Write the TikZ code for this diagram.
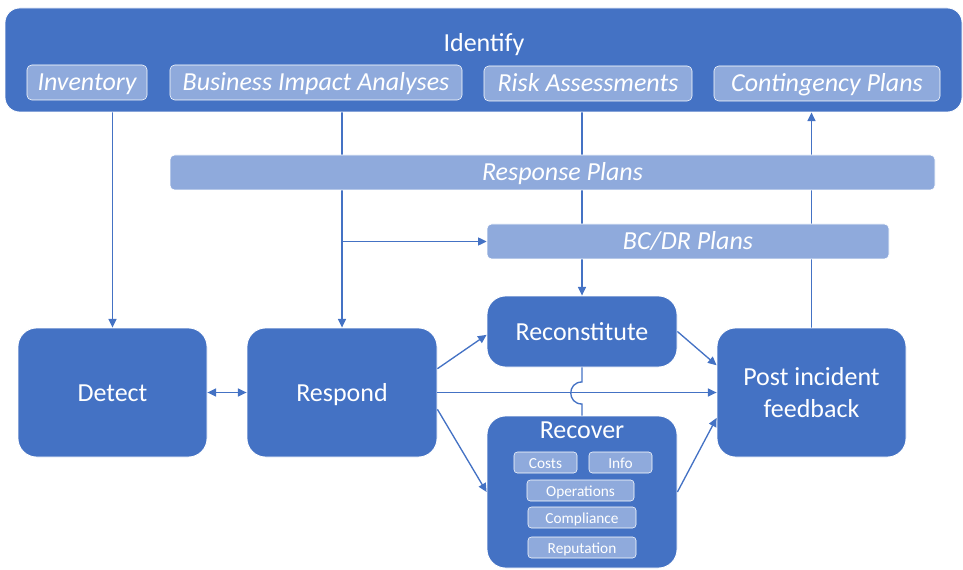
\documentclass[tikz,border=0pt]{standalone}
\usepackage{fontspec}
\setmainfont{Carlito}
\usetikzlibrary{arrows.meta,backgrounds}
\definecolor{blockblue}{HTML}{4472C4}
\definecolor{paleblue}{HTML}{8FAADC}
\begin{document}
\begin{tikzpicture}[x=0.75pt,y=-0.75pt,
        boxsize/.style 2 args={minimum width=#1*0.75pt,minimum height=#2*0.75pt},
        mainbox/.style={draw=white,line width=0.6pt,fill=blockblue,rounded corners=14pt,inner sep=0pt,text=white,align=center,font=\fontsize{19.5}{24.5}\selectfont},
        oneline/.style={mainbox,text height=15pt,text depth=1pt},
        planbar/.style={draw=white,line width=0.4pt,fill=paleblue,rounded corners=3.5pt,inner sep=0pt,text=white,text height=15.6pt,text depth=2.9pt,font=\fontsize{19.5}{24}\selectfont\itshape},
        itembox/.style={planbar,rounded corners=2.5pt,text height=9.8pt,text depth=1.2pt,font=\fontsize{11.5}{14}\selectfont},
        boxtitle/.style={inner sep=0pt,text=white,font=\fontsize{19.5}{24}\selectfont},
        wire/.style={draw=blockblue,line width=1pt},
        flow/.style={wire,-{Triangle[length=6.5pt,width=6pt]}},
        twoway/.style={wire,{Triangle[length=6.5pt,width=6pt]}-{Triangle[length=6.5pt,width=6pt]}}]
        \useasboundingbox (0,0) rectangle (963,570);

        \node[mainbox, rounded corners=11pt, boxsize={957}{104}] (identify) at (483.5,60) {};
        \node[boxtitle] (idtitle) at (484,45) {Identify};
        \node[planbar, boxsize={120}{35}] (inv) at (87,82.5) {Inventory};
        \node[planbar, boxsize={292}{35}] (bia) at (316,82.5) {Business Impact Analyses};
        \node[planbar, boxsize={208}{35}] (risk) at (588,83.5) {Risk Assessments};
        \node[planbar, boxsize={226}{35}] (cont) at (827,83.5) {Contingency Plans};

        \node[planbar, boxsize={765}{35}] (resp) at (552.5,172.5) {\hspace*{15pt}Response Plans};
        \node[planbar, boxsize={402}{35}] (bcdr) at (688,241.5) {BC/DR Plans};

        \node[oneline, boxsize={189}{129}] (detect) at (112.5,392.5) {Detect};
        \node[oneline, boxsize={190}{129}] (respond) at (342,392.5) {Respond};
        \node[oneline, boxsize={190}{71}] (recon) at (582,331.5) {Reconstitute};
        \node[mainbox, boxsize={190}{152}] (recov) at (582,492) {};
        \node[boxtitle] (rectitle) at (582,430) {Recover};
        \node[mainbox, boxsize={189}{129}] (post) at (811.5,392.5) {Post incident\\feedback};

        \node[itembox, boxsize={63}{21}] (costs) at (545.5,462.5) {Costs};
        \node[itembox, boxsize={63}{21}] (info) at (620.5,462.5) {Info};
        \node[itembox, boxsize={107}{21}] (ops) at (580.5,490.5) {Operations};
        \node[itembox, boxsize={108}{21}] (comp) at (582,517.5) {Compliance};
        \node[itembox, boxsize={108}{21}] (rep) at (582,547.5) {Reputation};

        % lines that run behind the plan bars
        \begin{scope}[on background layer]
        \draw[flow] (detect.north |- identify.south) -- (detect.north);
        \draw[flow] (respond.north |- identify.south) -- (respond.north);
        \draw[flow] (respond.north |- bcdr.west) -- (bcdr.west);
        \draw[flow] (recon.north |- identify.south) -- (recon.north);
        \draw[flow] (post.north) -- (post.north |- identify.south);
        \end{scope}

        \draw[twoway] (detect.east) -- (respond.west);
        \draw[flow] (respond.14) -- (recon.182);
        \draw[flow] (respond.east) -- (post.west);
        \draw[flow] (respond.-10) -- (recov.west);
        \draw[flow] (recon.east) -- (post.164);
        \draw[flow] (recov.east) -- (post.195);

        \coordinate (hopA) at (582,382);
        \coordinate (hopB) at (582,404);
        \draw[wire] (recon.south) -- (hopA) .. controls +(-15,0) and +(-15,0) .. (hopB) -- (recov.north);
\end{tikzpicture}
\end{document}
